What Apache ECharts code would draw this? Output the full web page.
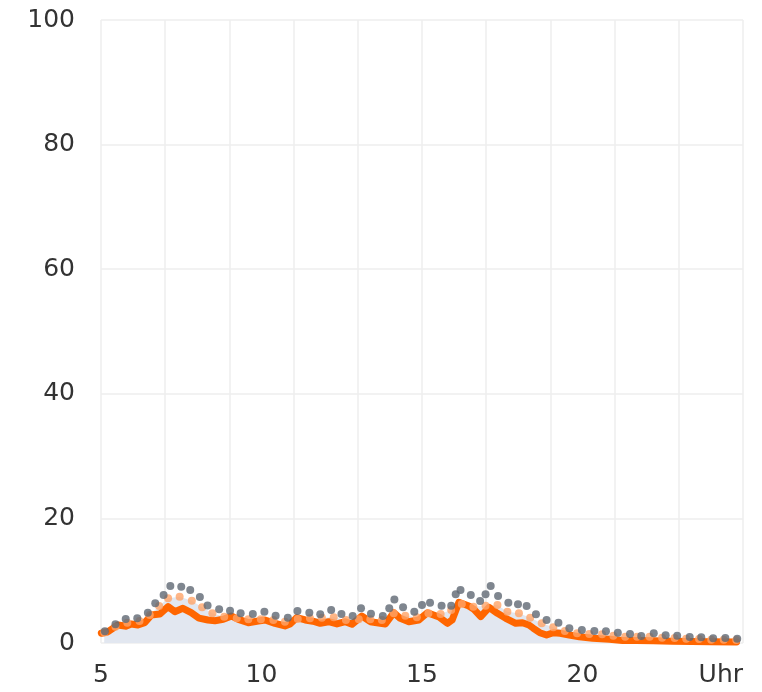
<!DOCTYPE html>
<html>
<head>
<meta charset="utf-8">
<script src="https://cdn.jsdelivr.net/npm/echarts@6/dist/echarts.min.js"></script>
<style>
  html, body { margin: 0; padding: 0; background: #fff; }
  #chart { width: 762px; height: 692px; }
</style>
</head>
<body>
<div id="chart"></div>
<script>
// grey dots: [hour, value]
const greyPoints = [
  [5.12, 1.9], [5.45, 3.0], [5.77, 3.85], [6.13, 3.96], [6.46, 4.87], [6.69, 6.37],
  [6.95, 7.7], [7.16, 9.15], [7.5, 9.04], [7.78, 8.5], [8.08, 7.4], [8.32, 6.0],
  [8.68, 5.4], [9.02, 5.19], [9.35, 4.76], [9.73, 4.65], [10.09, 5.03], [10.44, 4.39],
  [10.82, 4.07], [11.12, 5.14], [11.49, 4.87], [11.83, 4.6], [12.17, 5.3], [12.49, 4.65],
  [12.84, 4.33], [13.1, 5.56], [13.41, 4.71], [13.78, 4.33], [13.98, 5.56], [14.14, 7.0],
  [14.41, 5.72], [14.76, 5.03], [15.0, 6.1], [15.25, 6.47], [15.61, 5.99], [15.91, 5.99],
  [16.05, 7.81], [16.2, 8.5], [16.52, 7.7], [16.81, 6.74], [16.98, 7.81], [17.14, 9.15],
  [17.37, 7.54], [17.69, 6.47], [17.99, 6.21], [18.26, 5.94], [18.55, 4.6], [18.88, 3.69],
  [19.25, 3.26], [19.59, 2.36], [19.98, 2.09], [20.37, 1.93], [20.73, 1.88], [21.1, 1.65],
  [21.48, 1.44], [21.83, 1.12], [22.22, 1.56], [22.59, 1.23], [22.95, 1.17], [23.34, 0.96],
  [23.7, 0.91], [24.07, 0.75], [24.45, 0.8], [24.82, 0.69]
]

// light orange dots (also the shaded area)
const lightPoints = [
  [5.1, 1.7], [5.45, 2.6], [5.82, 3.26], [6.2, 3.53], [6.52, 4.49], [6.81, 5.94], [7.09, 7.17],
  [7.45, 7.43], [7.83, 6.79], [8.15, 5.73], [8.47, 4.76], [8.84, 4.23], [9.23, 3.96],
  [9.59, 3.8], [9.98, 3.8], [10.37, 3.69], [10.73, 3.42], [11.13, 3.85], [11.51, 3.96],
  [11.88, 4.07], [12.25, 4.12], [12.63, 3.69], [13.03, 3.8], [13.39, 3.8], [13.75, 3.69],
  [14.12, 4.76], [14.48, 4.39], [14.84, 4.12], [15.2, 4.76], [15.58, 4.65], [15.91, 5.3],
  [16.24, 6.26], [16.6, 5.83], [16.98, 5.99], [17.35, 6.1], [17.66, 5.03], [18.02, 4.76],
  [18.37, 4.07], [18.73, 3.16], [19.09, 2.52], [19.45, 1.93], [19.83, 1.56], [20.21, 1.44],
  [20.61, 1.4], [20.96, 1.17], [21.33, 1.01], [21.7, 1.01], [22.09, 1.01], [22.48, 0.85],
  [22.87, 0.8], [23.23, 0.69], [23.63, 0.64], [24.01, 0.53], [24.4, 0.53], [24.79, 0.48]
]

// thick orange line
const linePoints = [
  [5.01, 1.56], [5.22, 1.81], [5.53, 2.9], [5.79, 2.7], [5.94, 3.05], [6.15, 2.9],
  [6.36, 3.26], [6.57, 4.5], [6.83, 4.65], [7.09, 5.83], [7.3, 5.03], [7.55, 5.57],
  [7.81, 4.87], [8.05, 4.0], [8.33, 3.7], [8.55, 3.58], [8.81, 3.8], [9.07, 4.33],
  [9.28, 3.8], [9.59, 3.26], [9.9, 3.53], [10.11, 3.7], [10.42, 3.16], [10.73, 2.73],
  [10.89, 3.05], [11.1, 4.07], [11.36, 3.7], [11.6, 3.5], [11.83, 3.16], [12.09, 3.42],
  [12.35, 3.05], [12.61, 3.42], [12.82, 3.0], [13.13, 4.33], [13.39, 3.42], [13.7, 3.16],
  [13.86, 3.05], [14.12, 4.87], [14.32, 3.96], [14.59, 3.42], [14.9, 3.7], [15.17, 4.87],
  [15.53, 4.17], [15.79, 3.16], [15.94, 3.7], [16.15, 6.53], [16.46, 5.94], [16.62, 5.4],
  [16.83, 4.23], [17.09, 5.72], [17.35, 4.76], [17.61, 3.96], [17.92, 3.16], [18.13, 3.26],
  [18.33, 2.89], [18.47, 2.36], [18.67, 1.65], [18.88, 1.28], [19.09, 1.65], [19.3, 1.56],
  [19.59, 1.28], [19.9, 1.01], [20.32, 0.75], [20.84, 0.6], [21.25, 0.4], [21.67, 0.4],
  [22.2, 0.35], [22.8, 0.3], [23.4, 0.25], [24.0, 0.2], [24.8, 0.15]
]

const xLabels = { 5: '5', 10: '10', 15: '15', 20: '20', 25: 'Uhr' }

const chart = echarts.init(document.getElementById('chart'))

const labelFont = { fontFamily: 'DejaVu Sans', fontSize: 25, color: '#333' }
const gridLine = { show: true, lineStyle: { color: '#eeeeee', width: 1.5 } }

chart.setOption({
  animation: false,
  grid: { left: 101, right: 19, top: 20, bottom: 49 },
  xAxis: [
    {
      type: 'value', min: 5, max: 25, interval: 2,
      axisLine: { show: false }, axisTick: { show: false },
      axisLabel: { show: false },
      splitLine: gridLine
    },
    {
      type: 'value', min: 5, max: 25, interval: 5, position: 'bottom',
      axisLine: { show: false }, axisTick: { show: false },
      splitLine: { show: false },
      axisLabel: {
        ...labelFont, margin: 20,
        alignMaxLabel: 'right',
        formatter: v => xLabels[v] ?? ''
      }
    }
  ],
  yAxis: {
    type: 'value', min: 0, max: 100, interval: 20,
    axisLine: { show: false }, axisTick: { show: false },
    axisLabel: { ...labelFont, margin: 26 },
    splitLine: gridLine
  },
  series: [
    {
      type: 'line', data: lightPoints, showSymbol: false,
      lineStyle: { opacity: 0 },
      areaStyle: { color: '#e2e7f0', opacity: 1 },
      z: 1
    },
    {
      type: 'line', data: linePoints, showSymbol: false,
      lineStyle: { color: '#ff6600', width: 7, join: 'round', cap: 'round' },
      z: 2
    },
    {
      type: 'scatter', data: lightPoints, symbolSize: 8,
      itemStyle: { color: '#ffa468' },
      z: 3
    },
    {
      type: 'scatter', data: greyPoints, symbolSize: 8,
      itemStyle: { color: '#5f6873' },
      z: 4
    }
  ]
})
</script>
</body>
</html>
